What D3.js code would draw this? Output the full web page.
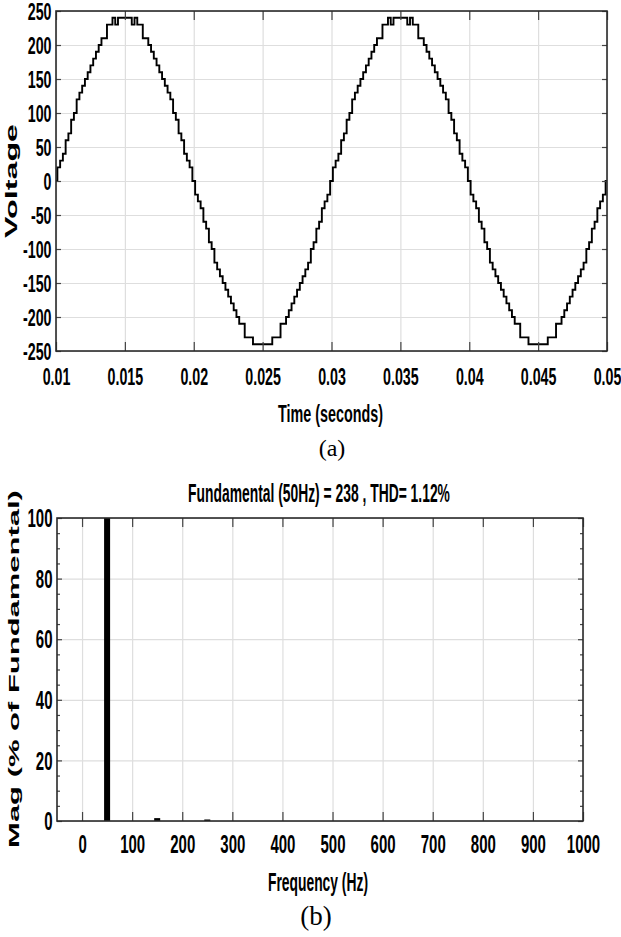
<!DOCTYPE html>
<html><head><meta charset="utf-8">
<script src="https://cdn.jsdelivr.net/npm/d3@7"></script>
<style>body{margin:0;background:#fff}svg{display:block}</style>
</head><body>
<script>
// ---------- DATA ----------
const timeStart = 0.01;
const timeStep = 0.0002;
const voltage = [
0,20,30,40,60,70,90,100,120,130,
140,150,160,170,180,190,200,210,210,230,
230,240,230,240,240,240,240,240,230,240,
230,230,210,210,200,190,180,170,160,150,
140,130,120,100,90,70,60,40,30,20,
0,-20,-30,-40,-60,-70,-90,-100,-120,-130,
-140,-150,-160,-170,-180,-190,-200,-210,-210,-230,
-230,-230,-240,-240,-240,-240,-240,-240,-240,-230,
-230,-230,-210,-210,-200,-190,-180,-170,-160,-150,
-140,-130,-120,-100,-90,-70,-60,-40,-30,-20,
0,20,30,40,60,70,90,100,120,130,
140,150,160,170,180,190,200,210,210,230,
230,240,230,240,240,240,240,240,230,240,
230,230,210,210,200,190,180,170,160,150,
140,130,120,100,90,70,60,40,30,20,
0,-20,-30,-40,-60,-70,-90,-100,-120,-130,
-140,-150,-160,-170,-180,-190,-200,-210,-210,-230,
-230,-230,-240,-240,-240,-240,-240,-240,-240,-230,
-230,-230,-210,-210,-200,-190,-180,-170,-160,-150,
-140,-130,-120,-100,-90,-70,-60,-40,-30,-20,
0
];
const timeTicks = [0.01,0.015,0.02,0.025,0.03,0.035,0.04,0.045,0.05];
const timeTickLabels = ["0.01","0.015","0.02","0.025","0.03","0.035","0.04","0.045","0.05"];
const voltageTicks = [-250,-200,-150,-100,-50,0,50,100,150,200,250];
const voltageTickLabels = ["-250","-200","-150","-100","-50","0","50","100","150","200","250"];

const harmonicFreq = [50,150,250];
const harmonicMag = [100,0.95,0.5];
const freqTicks = [0,100,200,300,400,500,600,700,800,900,1000];
const freqTickLabels = ["0","100","200","300","400","500","600","700","800","900","1000"];
const magTicks = [0,20,40,60,80,100];
const magTickLabels = ["0","20","40","60","80","100"];

const titleA_x = "Time (seconds)", titleA_y = "Voltage", captionA = "(a)";
const titleB = "Fundamental (50Hz) = 238 , THD= 1.12%";
const titleB_x = "Frequency (Hz)", titleB_y = "Mag (% of Fundamental)", captionB = "(b)";

// ---------- STYLE ----------
const FONT = "'Liberation Sans', Arial, sans-serif";
const gridColor = "#dedede", boxColor = "#2a2a2a", tickColor = "#444";

const svg = d3.select("body").append("svg")
  .attr("width", 621).attr("height", 937)
  .style("font-family", FONT);

function squeeze(sel, sx) {
  sel.each(function () {
    const t = d3.select(this);
    const x = +t.attr("x") || 0, y = +t.attr("y") || 0;
    t.attr("x", null).attr("y", null)
     .attr("transform", `translate(${x},${y}) scale(${sx},1)`);
  });
}
function cleanAxis(g) { g.select(".domain").remove(); }

function frame(B, xS, yS, xT, yT) {
  const g = svg.append("g");
  g.append("g").attr("transform", `translate(0,${B.b})`)
    .call(d3.axisBottom(xS).tickValues(xT).tickSize(-(B.b - B.t)).tickFormat(""))
    .call(cleanAxis).selectAll("line").attr("stroke", gridColor).attr("stroke-width", 1.2);
  g.append("g").attr("transform", `translate(${B.l},0)`)
    .call(d3.axisLeft(yS).tickValues(yT).tickSize(-(B.r - B.l)).tickFormat(""))
    .call(cleanAxis).selectAll("line").attr("stroke", gridColor).attr("stroke-width", 1.2);
  return g;
}
function ticksAndBox(B, xS, yS, xT, yT, yMinor) {
  const g = svg.append("g");
  const st = s => s.call(cleanAxis).selectAll("line").attr("stroke", tickColor).attr("stroke-width", 1.2);
  st(g.append("g").attr("transform", `translate(0,${B.b})`).call(d3.axisBottom(xS).tickValues(xT).tickSize(-9).tickFormat("")));
  st(g.append("g").attr("transform", `translate(0,${B.t})`).call(d3.axisTop(xS).tickValues(xT).tickSize(-9).tickFormat("")));
  st(g.append("g").attr("transform", `translate(${B.l},0)`).call(d3.axisLeft(yS).tickValues(yT).tickSize(-5).tickFormat("")));
  st(g.append("g").attr("transform", `translate(${B.r},0)`).call(d3.axisRight(yS).tickValues(yT).tickSize(-5).tickFormat("")));
  if (yMinor) {
    st(g.append("g").attr("transform", `translate(${B.l},0)`).call(d3.axisLeft(yS).tickValues(yMinor).tickSize(-3).tickFormat("")));
    st(g.append("g").attr("transform", `translate(${B.r},0)`).call(d3.axisRight(yS).tickValues(yMinor).tickSize(-3).tickFormat("")));
  }
  g.append("rect").attr("x", B.l).attr("y", B.t).attr("width", B.r - B.l).attr("height", B.b - B.t)
    .attr("fill", "none").attr("stroke", boxColor).attr("stroke-width", 1.6);
}
function labels(B, xS, yS, xT, xL, yT, yL, fs, sx, xBase) {
  const gx = svg.append("g").attr("transform", `translate(0,${B.b})`)
    .call(d3.axisBottom(xS).tickValues(xT).tickSize(0).tickFormat((d, i) => xL[i])).call(cleanAxis);
  gx.selectAll("text").attr("y", xBase).attr("dy", null)
    .attr("font-size", fs).attr("font-weight", "bold").attr("fill", "#000").attr("font-family", FONT);
  squeeze(gx.selectAll("text"), sx);
  const gy = svg.append("g").attr("transform", `translate(${B.l},0)`)
    .call(d3.axisLeft(yS).tickValues(yT).tickSize(0).tickFormat((d, i) => yL[i])).call(cleanAxis);
  gy.selectAll("text").attr("x", -4.5).attr("dy", "0.35em")
    .attr("font-size", fs).attr("font-weight", "bold").attr("fill", "#000").attr("font-family", FONT);
  squeeze(gy.selectAll("text"), sx);
}
// text fitted to a target length with a scale transform
function fitText(str, x, y, fs, len, rot, opts = {}) {
  const t = svg.append("text").attr("text-anchor", "middle")
    .attr("font-size", fs).attr("font-weight", opts.weight || "bold")
    .attr("font-family", opts.family || FONT).attr("fill", "#000").text(str);
  const nat = t.node().getComputedTextLength();
  const sx = len ? len / nat : 1;
  t.attr("transform", `translate(${x},${y})${rot ? " rotate(-90)" : ""} scale(${sx},1)`);
  return t;
}

// ---------- PANEL A ----------
const A = { l: 56, r: 607, t: 11, b: 351 };
const xA = d3.scaleLinear().domain([0.01, 0.05]).range([A.l, A.r]);
const yA = d3.scaleLinear().domain([-250, 250]).range([A.b, A.t]);
frame(A, xA, yA, timeTicks, voltageTicks);
const line = d3.line()
  .x((d, i) => xA(timeStart + i * timeStep))
  .y(d => yA(d))
  .curve(d3.curveStep);
svg.append("path").datum(voltage).attr("d", line)
  .attr("fill", "none").attr("stroke", "#000").attr("stroke-width", 1.9).attr("stroke-linejoin", "miter");
ticksAndBox(A, xA, yA, timeTicks, voltageTicks);
labels(A, xA, yA, timeTicks, timeTickLabels, voltageTicks, voltageTickLabels, 23, 0.62, 34);
fitText(titleA_x, 330.5, 421.5, 23, 105, false);
fitText(titleA_y, 17, 181, 17, 114, true);
fitText(captionA, 332, 456, 24, null, false, { weight: "normal", family: "'Liberation Serif', 'Times New Roman', serif" });

// ---------- PANEL B ----------
const B = { l: 57, r: 583, t: 518, b: 821 };
const xB = d3.scaleLinear().domain([-50, 1000]).range([B.l, B.r]);
const yB = d3.scaleLinear().domain([0, 100]).range([B.b, B.t]);
frame(B, xB, yB, freqTicks, magTicks);
const barHalf = 6;
svg.append("g").selectAll("rect").data(harmonicFreq).join("rect")
  .attr("x", d => xB(d - barHalf))
  .attr("width", d => xB(d + barHalf) - xB(d - barHalf))
  .attr("y", (d, i) => yB(harmonicMag[i]))
  .attr("height", (d, i) => yB(0) - yB(harmonicMag[i]))
  .attr("fill", "#000");
const magMinor = d3.range(0, 101, 5).filter(v => v % 20 !== 0);
ticksAndBox(B, xB, yB, freqTicks, magTicks, magMinor);
labels(B, xB, yB, freqTicks, freqTickLabels, magTicks, magTickLabels, 25, 0.6, 32);
fitText(titleB, 319, 502, 25, 262, false);
fitText(titleB_x, 318, 891, 25, 100, false);
fitText(titleB_y, 18.5, 669, 15.5, 358, true);
fitText(captionB, 316, 925, 27, null, false, { weight: "normal", family: "'Liberation Serif', 'Times New Roman', serif" });
</script>
</body></html>
